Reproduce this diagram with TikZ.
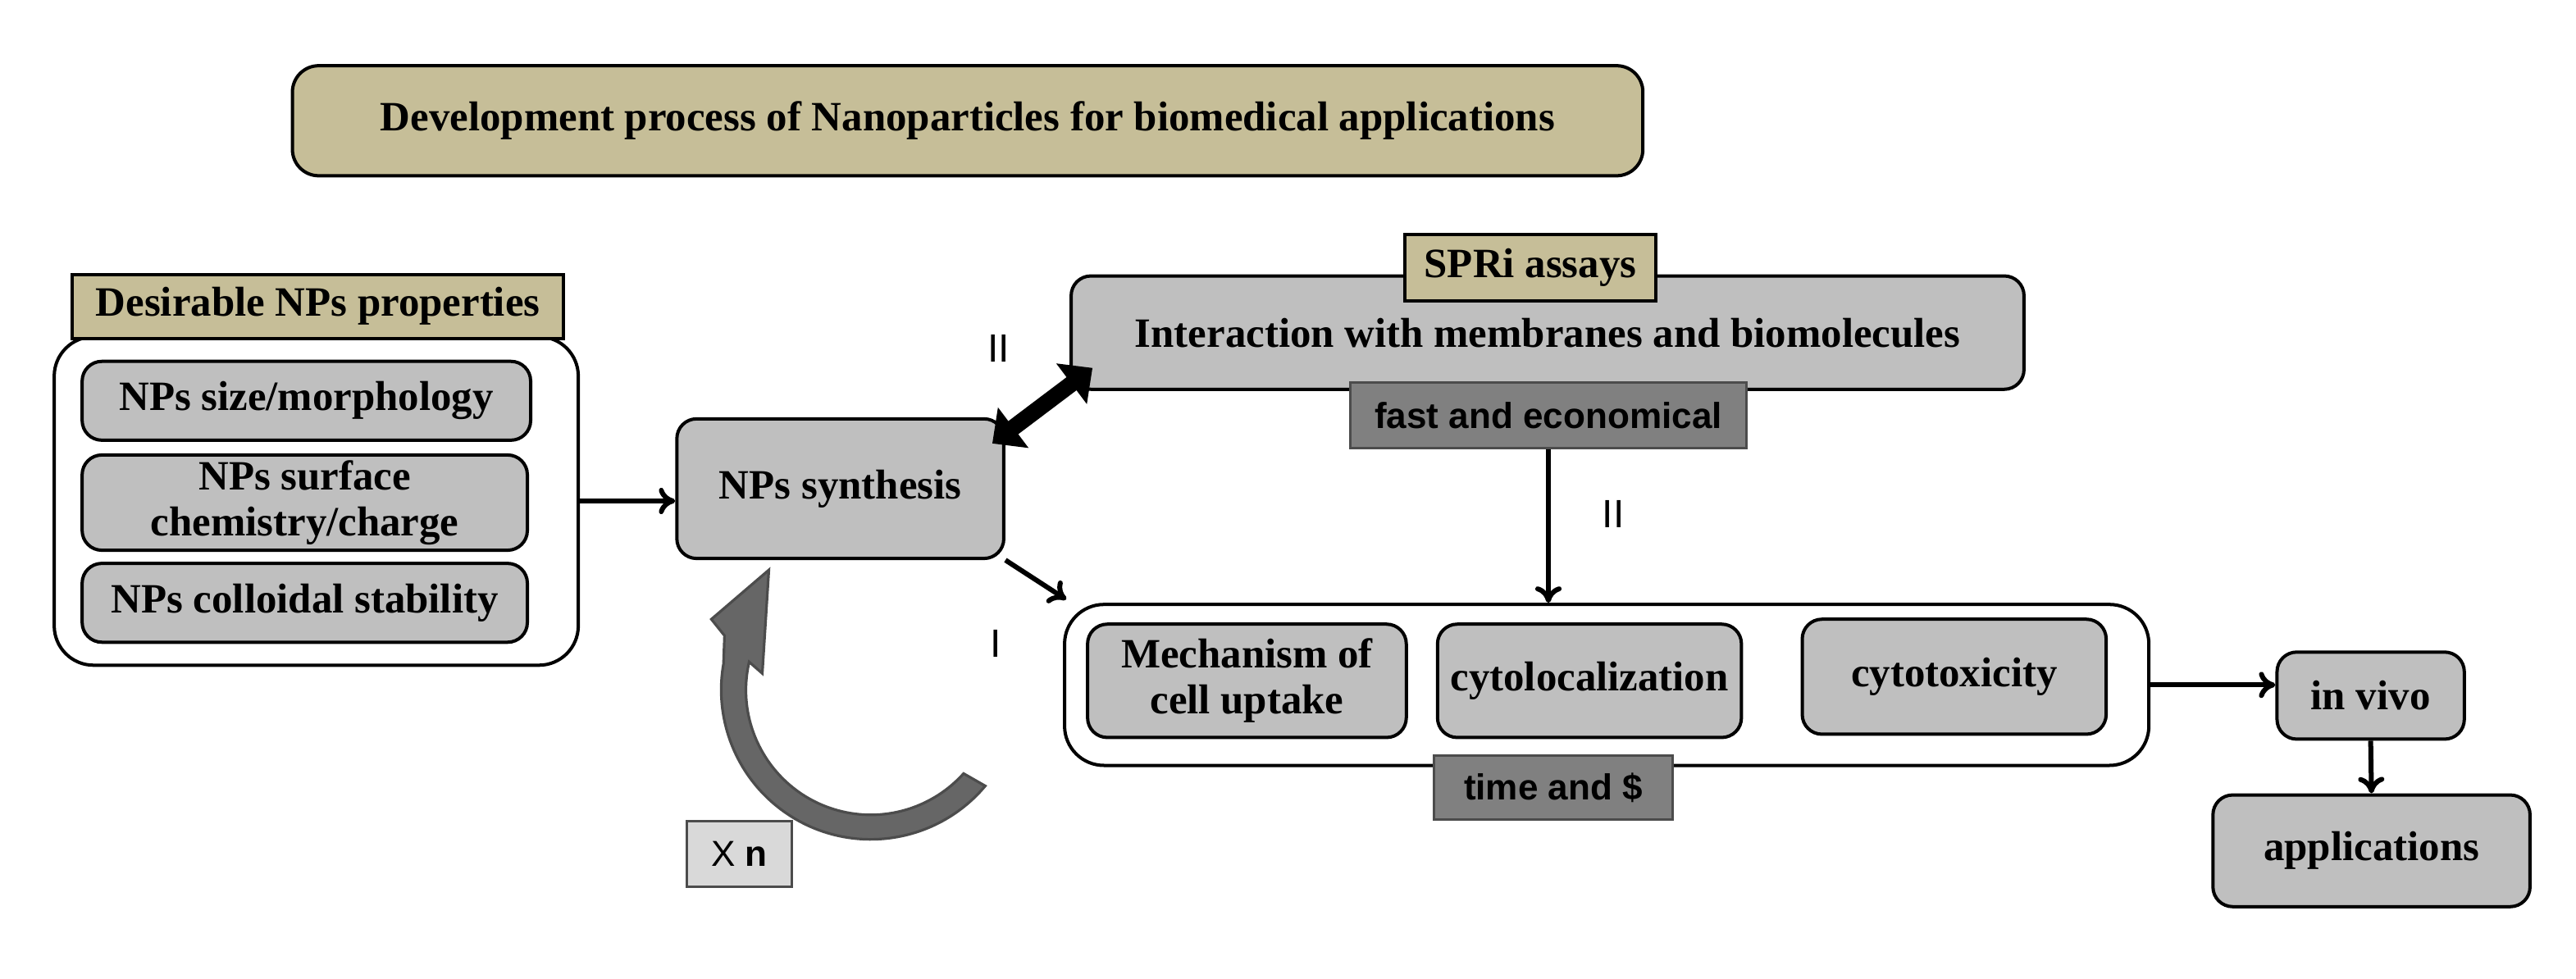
\documentclass[tikz,border=0pt]{standalone}
\usepackage{fontspec}
\setmainfont{Liberation Serif}
\newfontfamily\sansf{Liberation Sans}
\usetikzlibrary{arrows.meta,calc}
\definecolor{tan}{HTML}{C6BE98}
\definecolor{boxg}{HTML}{BFBFBF}
\definecolor{darkg}{HTML}{808080}
\definecolor{xng}{HTML}{D9D9D9}
\definecolor{curv}{HTML}{666666}
\begin{document}
\begin{tikzpicture}[x=0.5pt,y=-0.5pt,
  box/.style={draw=black,line width=1pt,rounded corners=6pt,fill=boxg,inner sep=0pt,align=center,font=\fontsize{12.7}{14}\selectfont\bfseries},
  tanb/.style={draw=black,line width=1pt,fill=tan,inner sep=0pt,align=center,font=\fontsize{12.7}{14}\selectfont\bfseries},
  darkb/.style={draw=black!70,line width=0.8pt,fill=darkg,inner sep=0pt,font=\sansf\fontsize{11}{13}\selectfont\bfseries},
  outer/.style={draw=black,line width=1pt,rounded corners=12pt,fill=white,inner sep=0pt},
  conn/.style={line width=1.5pt,-{To[length=5pt,width=8pt]}},
  lab/.style={font=\sansf\fontsize{12}{13}\selectfont}]
\useasboundingbox (0,0) rectangle (1568,596);
\node[box,fill=tan,rounded corners=8pt,minimum width=411pt,minimum height=33.5pt,font=\fontsize{12.7}{14}\selectfont\bfseries] (title) at (589,73.5) {Development process of Nanoparticles for biomedical applications};
% left group
\node[outer,minimum width=159.5pt,minimum height=100pt] (left) at (192.5,305) {};
\node[tanb,minimum width=149.5pt,minimum height=19.5pt] (des) at (193.5,186.5) {Desirable NPs properties};
\node[box,minimum width=136.5pt,minimum height=24pt] (size) at (186.5,244) {NPs size/morphology};
\node[box,minimum width=135.5pt,minimum height=29pt] (surf) at (185.5,306) {NPs surface\\chemistry/charge};
\node[box,minimum width=135.5pt,minimum height=24pt] (coll) at (185.5,367) {NPs colloidal stability};
% synthesis
\node[box,minimum width=99.5pt,minimum height=42.5pt] (syn) at (511.5,297.5) {NPs synthesis};
% interaction
\node[box,minimum width=290pt,minimum height=34.5pt] (inter) at (942,202.5) {Interaction with membranes and biomolecules};
\node[tanb,minimum width=76.5pt,minimum height=20pt] (spri) at (931.5,163) {SPRi assays};
\node[darkb,minimum width=120.5pt,minimum height=20pt] (fast) at (942.5,253) {fast and economical};
% big box
\node[outer,minimum width=330pt,minimum height=49pt] (big) at (978,417) {};
\node[box,minimum width=97pt,minimum height=34.5pt] (mech) at (759,414.5) {Mechanism of\\cell uptake};
\node[box,minimum width=92.5pt,minimum height=34.5pt] (cloc) at (967.5,414.5) {cytolocalization};
\node[box,minimum width=92.5pt,minimum height=35pt] (ctox) at (1189.5,412) {cytotoxicity};
\node[darkb,minimum width=72.5pt,minimum height=19.5pt] (time) at (945.5,479.5) {time and \$};
% right
\node[box,minimum width=57pt,minimum height=26.5pt] (vivo) at (1443,423.5) {in vivo};
\node[box,minimum width=96.5pt,minimum height=34pt] (app) at (1443.5,518) {applications};
% Xn
\node[draw=black!70,line width=0.8pt,fill=xng,minimum width=32pt,minimum height=20pt,inner sep=0pt,font=\sansf\fontsize{11}{13}\selectfont] (xn) at (450,520) {X \textbf{n}};
% labels
\node[lab] (l1) at (608,212) {II};
\node[lab] (l2) at (982,313) {II};
\node[lab] (l3) at (606,392) {I};
% connectors
\draw[conn] (left.east) -- (left.east -| syn.west);
\draw[conn] (syn.south east) -- ([xshift=1pt,yshift=1pt]big.north west);
\draw[conn] (fast.south) -- (fast.south |- big.north);
\draw[conn] (big.east) -- (vivo.west |- big.east);
\draw[conn] (vivo.south) -- (app.north);
\draw[line width=5pt,{Triangle[length=8pt,width=15pt]}-{Triangle[length=8pt,width=15pt]}] ($(syn.north east)+(-8,16)$) -- ($(inter.south west)+(14,-14)$);
% curved arrow
\coordinate (cc) at (530,420);
\fill[curv,draw=black!70,line width=0.8pt] ($(cc)+(40:91)$) arc[start angle=40,end angle=190,radius=91] -- (441,387) -- (433,377) -- (468,347) -- (464,410) -- (456,403) arc[start angle=193,end angle=42,radius=76] -- cycle;
\end{tikzpicture}
\end{document}
